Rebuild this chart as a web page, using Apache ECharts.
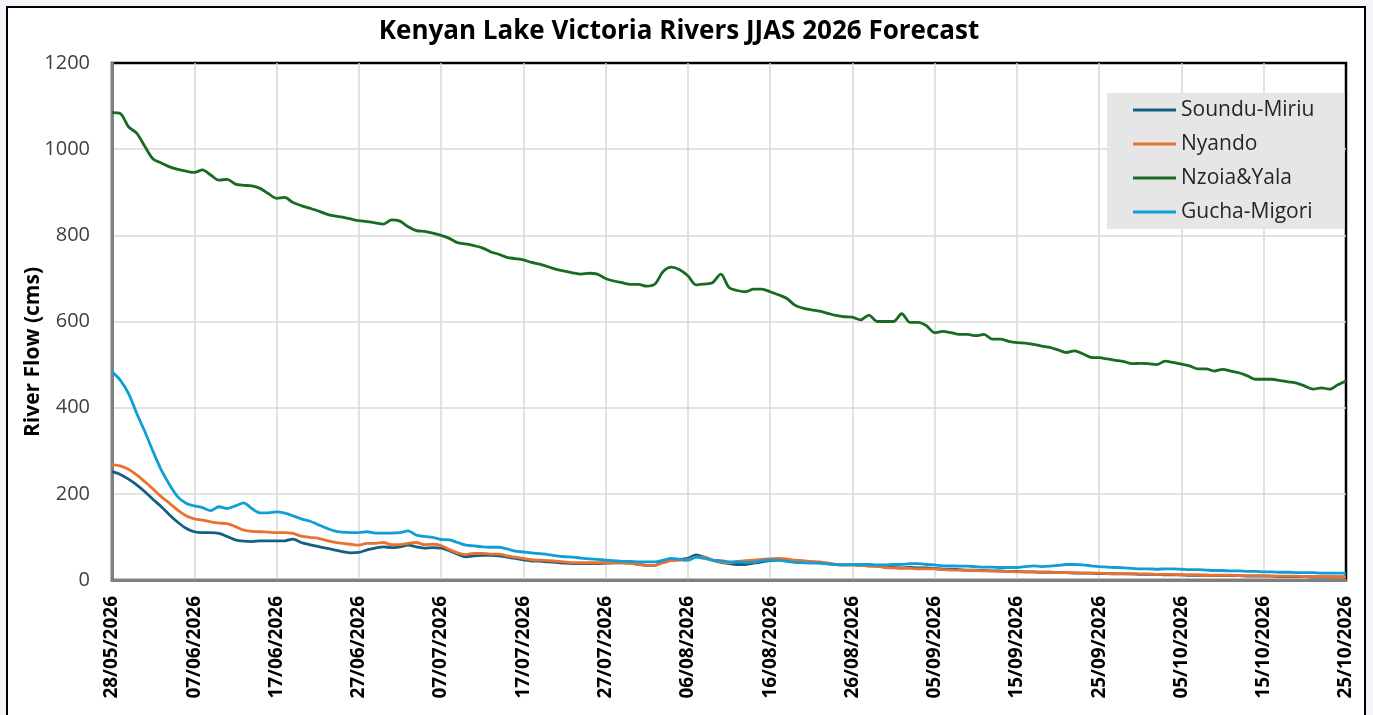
<!DOCTYPE html>
<html>
<head>
<meta charset="utf-8">
<script src="https://cdn.jsdelivr.net/npm/echarts@6/dist/echarts.min.js"></script>
<style>
  html, body { margin: 0; padding: 0; background: #f3f5f9; }
  #chart { width: 1373px; height: 715px; }
</style>
</head>
<body>
<div id="chart"></div>
<script>
// ---- data ----
const startDate = [2026, 5, 28]; // 28/05/2026, daily values to 25/10/2026
const dayCount = 151;
const dates = [];
for (let i = 0; i < dayCount; i++) {
  const d = new Date(Date.UTC(startDate[0], startDate[1] - 1, startDate[2] + i));
  const dd = String(d.getUTCDate()).padStart(2, '0');
  const mm = String(d.getUTCMonth() + 1).padStart(2, '0');
  dates.push(dd + '/' + mm + '/' + d.getUTCFullYear());
}

const seriesNames = ['Soundu-Miriu', 'Nyando', 'Nzoia&Yala', 'Gucha-Migori'];

const soundu = [
  252,245,234,221,205,187,170,151,134,120,
  112,110,110,108,101,93,90,89,91,91,
  91,91,95,87,82,78,74,70,66,63,
  64,70,74,77,75,77,81,77,74,75,
  74,68,60,54,56,57,57,56,53,50,
  47,44,44,42,41,39,38,38,38,38,
  39,40,40,39,36,34,34,43,48,48,
  50,58,53,46,41,38,36,36,39,42,
  45,46,45,43,42,41,40,39,36,35,
  35,34,33,32,30,29,28,29,28,28,
  27,25,25,24,23,23,
  22,21,21,20,20,19,19,18,18,17,17,16,16,16,15,15,14,14,14,13,13,13,12,12,12,
  11,11,11,10,10,10,10,9,9,9,9,8,8,8,8,7,7,7,7,7
];

const nyando = [
  268,265,257,244,228,211,193,178,162,149,
  142,139,135,132,131,124,116,113,112,111,
  110,110,108,102,99,97,92,88,85,83,
  81,85,85,87,82,82,85,87,82,83,
  80,71,63,59,62,62,60,60,56,53,
  50,47,46,45,44,42,40,40,40,40,
  40,40,40,39,36,34,34,40,45,46,
  47,53,53,46,42,40,43,45,46,48,
  49,50,49,46,45,43,42,39,36,35,
  35,34,32,32,29,28,27,27,26,26,
  26,24,23,23,22,22,
  21,21,20,20,19,19,19,18,18,17,17,17,16,16,16,15,15,15,14,14,14,13,13,13,12,
  12,12,11,11,11,11,10,10,10,10,9,9,9,9,8,8,8,8,7,7
];

const nzoia = [
  1085,1083,1052,1037,1006,977,968,959,953,949,
  946,952,940,928,930,919,916,915,909,897,
  886,888,876,869,863,857,850,845,842,838,
  834,832,829,826,836,833,820,811,809,805,
  800,793,783,780,776,771,762,756,749,746,
  743,737,733,727,721,717,713,710,712,710,
  700,694,690,686,686,682,687,716,726,720,
  706,685,687,690,710,679,672,669,675,675,
  669,662,654,638,631,627,624,619,614,611,
  610,604,615,600,600,600,618,598,598,590,
  574,577,574,570,570,567,570,559,559,554,
  551,550,547,543,540,534,528,532,525,517,
  516,513,510,507,502,503,502,500,508,505,
  501,497,490,490,485,489,485,481,474,466,
  466,466,463,460,457,450,443,446,443,453,
  462
];

const gucha = [
  483,464,433,387,344,298,255,221,193,178,
  172,168,161,170,166,172,179,166,156,156,
  158,155,149,142,137,129,121,114,111,110,
  110,112,109,109,109,110,114,104,101,99,
  94,93,87,81,79,77,76,76,72,67,
  65,63,61,59,56,54,53,51,49,48,
  46,45,43,43,42,42,42,46,50,48,
  46,53,50,46,45,42,42,41,41,45,
  46,46,43,41,40,39,39,37,36,35,
  36,36,36,35,35,36,36,38,38,36,
  35,33,33,32,32,31,30,30,29,29,
  29,31,33,31,32,34,36,36,35,33,
  31,30,29,28,27,26,26,25,26,26,
  25,24,24,23,22,22,21,21,20,20,
  19,19,18,18,17,17,17,16,16,16,
  16
];

const yTicks = { min: 0, max: 1200, step: 200 };
const colors = ['#156082', '#E97132', '#196B24', '#0F9ED5'];

// ---- chart ----
const chart = echarts.init(document.getElementById('chart'), null, { renderer: 'canvas' });
const FONT = 'Open Sans';
const valuesList = [soundu, nyando, nzoia, gucha];

const option = {
  animation: false,
  backgroundColor: 'transparent',
  color: colors,
  textStyle: { fontFamily: FONT },
  graphic: [
    {
      type: 'rect', z: -100, silent: true,
      shape: { x: 7, y: 7, width: 1358, height: 730 },
      style: { fill: '#ffffff', stroke: '#000000', lineWidth: 2 }
    },
    {
      type: 'text', z: 10, x: 679, y: 32,
      style: {
        text: 'Kenyan Lake Victoria Rivers JJAS 2026 Forecast',
        font: 'bold 26px "Open Sans"', fill: '#000000',
        textAlign: 'center', textVerticalAlign: 'middle'
      }
    },
    {
      type: 'text', z: 10, x: 33, y: 352, rotation: Math.PI / 2,
      style: {
        text: 'River Flow (cms)',
        font: 'bold 21px "Open Sans"', fill: '#000000',
        textAlign: 'center', textVerticalAlign: 'middle'
      }
    }
  ],
  legend: {
    orient: 'vertical',
    left: 1107, top: 93,
    backgroundColor: '#e6e6e6',
    padding: [5, 30, 5, 26],
    itemGap: 10,
    itemWidth: 43, itemHeight: 3,
    icon: 'rect',
    textStyle: { fontSize: 21, color: '#262626', fontFamily: FONT, lineHeight: 24 },
    data: seriesNames
  },
  grid: {
    left: 112, right: 27, top: 63, bottom: 135,
    show: true, borderColor: '#000000', borderWidth: 2.5, backgroundColor: '#ffffff'
  },
  xAxis: {
    type: 'category',
    data: dates,
    boundaryGap: false,
    axisLine: { show: true, lineStyle: { color: '#7f7f7f', width: 3 } },
    axisTick: { show: false },
    axisLabel: {
      interval: 9, rotate: 90, margin: 16,
      fontSize: 19, fontWeight: 'bold', color: '#000000', fontFamily: FONT
    },
    splitLine: { show: true, interval: 9, showMinLine: false, showMaxLine: false,
      lineStyle: { color: '#d9d9d9', width: 1.5 } }
  },
  yAxis: {
    type: 'value',
    min: yTicks.min, max: yTicks.max, interval: yTicks.step,
    axisLine: { show: true, lineStyle: { color: '#7f7f7f', width: 3 } },
    axisTick: { show: false },
    axisLabel: { fontSize: 20, color: '#404040', margin: 22, fontFamily: FONT,
      formatter: function (v) { return String(v); } },
    splitLine: { show: true, showMinLine: false, showMaxLine: false,
      lineStyle: { color: '#d9d9d9', width: 1.5 } }
  },
  series: seriesNames.map((name, i) => ({
    name: name,
    type: 'line',
    data: valuesList[i],
    symbol: 'none',
    smooth: 0.3,
    lineStyle: { width: 2.8, color: colors[i] },
    itemStyle: { color: colors[i] },
    z: 2 + i
  }))
};
chart.setOption(option);
</script>
</body>
</html>
